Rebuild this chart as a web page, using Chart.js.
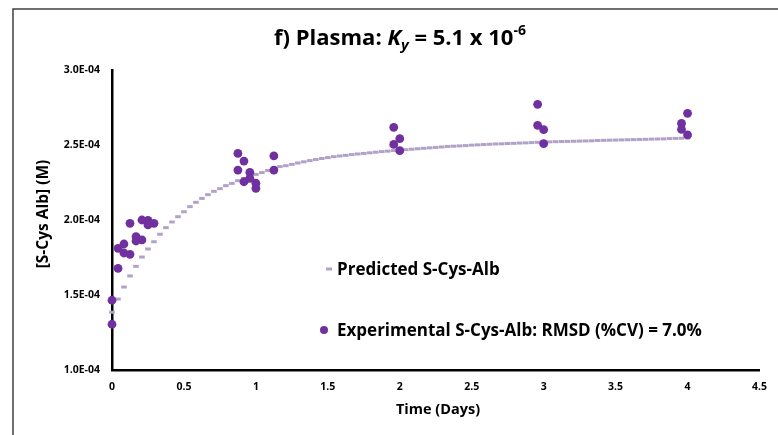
<!DOCTYPE html>
<html>
<head>
<meta charset="utf-8">
<title>S-Cys-Alb plasma</title>
<script src="https://cdn.jsdelivr.net/npm/chart.js@4.4.1/dist/chart.umd.min.js"></script>
<style>
    html, body { margin: 0; padding: 0; background: #fff; }
    #wrap { width: 778px; height: 435px; }
</style>
</head>
<body>
<div id="wrap"><canvas id="myChart" width="778" height="435"></canvas></div>
<script>
// Experimental S-Cys-Alb (units of 1e-4 M) against time in days
var expDays = [0, 0, 0.042, 0.042, 0.083, 0.083, 0.125, 0.125, 0.167, 0.167,
    0.208, 0.208, 0.25, 0.25, 0.292,
    0.875, 0.875, 0.917, 0.917, 0.958, 0.958, 1.0, 1.0, 1.125, 1.125,
    1.958, 1.958, 2.0, 2.0,
    2.958, 2.958, 3.0, 3.0,
    3.958, 3.958, 4.0, 4.0];
var expValues = [1.465, 1.305, 1.678, 1.811, 1.840, 1.780, 1.771, 1.978, 1.889, 1.860,
    1.867, 2.000, 1.998, 1.967, 1.978,
    2.444, 2.333, 2.393, 2.255, 2.318, 2.278, 2.245, 2.211, 2.427, 2.333,
    2.618, 2.504, 2.542, 2.462,
    2.771, 2.631, 2.602, 2.509,
    2.644, 2.604, 2.711, 2.567];

// Model prediction, one value per hour from 0 to 96 h (units of 1e-4 M)
var predValues = [
    1.385, 1.473, 1.553, 1.627, 1.691, 1.753, 1.807, 1.855, 1.905, 1.949,
    1.987, 2.022, 2.055, 2.089, 2.118, 2.144, 2.169, 2.191, 2.209, 2.229,
    2.244, 2.262, 2.276, 2.290, 2.304, 2.316, 2.330, 2.344, 2.356, 2.362,
    2.371, 2.380, 2.388, 2.396, 2.403, 2.410, 2.416, 2.422, 2.427, 2.431,
    2.436, 2.440, 2.444, 2.448, 2.452, 2.456, 2.459, 2.463, 2.466, 2.469,
    2.472, 2.475, 2.478, 2.481, 2.484, 2.487, 2.490, 2.492, 2.494, 2.496,
    2.499, 2.501, 2.503, 2.505, 2.507, 2.508, 2.510, 2.511, 2.513, 2.514,
    2.516, 2.518, 2.520, 2.521, 2.522, 2.523, 2.524, 2.525, 2.526, 2.527,
    2.528, 2.530, 2.531, 2.532, 2.533, 2.534, 2.535, 2.536, 2.537, 2.538,
    2.539, 2.540, 2.541, 2.543, 2.544, 2.545, 2.547];

var xTicks = [0, 0.5, 1, 1.5, 2, 2.5, 3, 3.5, 4, 4.5];
var xTickLabels = ['0', '0.5', '1', '1.5', '2', '2.5', '3', '3.5', '4', '4.5'];
var yTicks = [1.0, 1.5, 2.0, 2.5, 3.0];
var yTickLabels = ['1.0E-04', '1.5E-04', '2.0E-04', '2.5E-04', '3.0E-04'];

var FONT = '"Open Sans", Lato, sans-serif';
var PURPLE = '#7030a0';
var LAVENDER = '#b3a2c7';

var expPoints = expDays.map(function (d, i) { return { x: d, y: expValues[i] }; });
var predPoints = predValues.map(function (v, h) { return { x: h / 24, y: v }; });

// Title, axis titles, legend and the frame are painted by hand
var decor = {
    id: 'decor',
    beforeDraw: function (chart) {
        var ctx = chart.ctx;
        ctx.save();
        ctx.fillStyle = '#fff';
        ctx.fillRect(0, 0, chart.width, chart.height);
        ctx.strokeStyle = '#404040';
        ctx.lineWidth = 1.5;
        ctx.beginPath();
        ctx.moveTo(13, chart.height);
        ctx.lineTo(13, 9);
        ctx.lineTo(chart.width, 9);
        ctx.stroke();
        ctx.restore();
    },
    afterDraw: function (chart) {
        var ctx = chart.ctx;
        ctx.save();
        ctx.fillStyle = '#000';
        ctx.textBaseline = 'alphabetic';

        // chart title with italic K, subscript y and superscript -6
        var parts = [
            { t: 'f) Plasma: ', f: 'bold 22px ' + FONT, dy: 0 },
            { t: 'K', f: 'italic bold 22px ' + FONT, dy: 0 },
            { t: 'y', f: 'italic bold 15px ' + FONT, dy: 5 },
            { t: ' = 5.1 x 10', f: 'bold 22px ' + FONT, dy: 0 },
            { t: '-6', f: 'bold 14px ' + FONT, dy: -10 }
        ];
        var total = 0;
        parts.forEach(function (p) { ctx.font = p.f; p.w = ctx.measureText(p.t).width; total += p.w; });
        var x = 400 - total / 2;
        ctx.textAlign = 'left';
        parts.forEach(function (p) { ctx.font = p.f; ctx.fillText(p.t, x, 45 + p.dy); x += p.w; });

        // axis titles
        ctx.font = 'bold 14.5px ' + FONT;
        ctx.textAlign = 'center';
        ctx.textBaseline = 'middle';
        ctx.fillText('Time (Days)', 438, 410);
        ctx.save();
        ctx.translate(44, 214);
        ctx.rotate(-Math.PI / 2);
        ctx.font = 'bold 15.5px ' + FONT;
        ctx.fillText('[S-Cys Alb] (M)', 0, 0);
        ctx.restore();

        // legend inside the plot
        ctx.strokeStyle = LAVENDER;
        ctx.lineWidth = 3;
        ctx.beginPath();
        ctx.moveTo(326, 269);
        ctx.lineTo(332, 269);
        ctx.stroke();
        ctx.fillStyle = PURPLE;
        ctx.beginPath();
        ctx.arc(324, 330, 4, 0, Math.PI * 2);
        ctx.fill();
        ctx.fillStyle = '#000';
        ctx.font = 'bold 17px ' + FONT;
        ctx.textAlign = 'left';
        ctx.fillText('Predicted S-Cys-Alb', 337, 270);
        ctx.fillText('Experimental S-Cys-Alb: RMSD (%CV) = 7.0%', 337, 331);
        ctx.restore();
    }
};

var ctx = document.getElementById('myChart').getContext('2d');
var myChart = new Chart(ctx, {
    type: 'scatter',
    data: {
        datasets: [{
            label: 'Experimental S-Cys-Alb',
            data: expPoints,
            pointStyle: 'circle',
            pointRadius: 4.4,
            pointBackgroundColor: PURPLE,
            pointBorderWidth: 0,
            clip: false
        }, {
            label: 'Predicted S-Cys-Alb',
            data: predPoints,
            pointStyle: 'line',
            pointRadius: 2.8,
            pointBorderWidth: 3,
            pointBorderColor: LAVENDER,
            clip: false
        }]
    },
    options: {
        responsive: false,
        animation: false,
        layout: { padding: { left: 0, top: 70, right: 15, bottom: 0 } },
        plugins: {
            legend: { display: false },
            title: { display: false },
            tooltip: { enabled: false }
        },
        scales: {
            x: {
                type: 'linear',
                min: 0,
                max: 4.5,
                grid: { display: false, drawTicks: false },
                border: { display: true, color: '#000', width: 2.5 },
                afterBuildTicks: function (scale) {
                    scale.ticks = xTicks.map(function (v) { return { value: v }; });
                },
                afterFit: function (scale) { scale.height = 65; },
                ticks: {
                    padding: 11,
                    color: '#000',
                    font: { family: FONT, size: 10.5, weight: 'bold' },
                    callback: function (v, i) { return xTickLabels[i]; }
                }
            },
            y: {
                type: 'linear',
                min: 1.0,
                max: 3.0,
                grid: { display: false, drawTicks: false },
                border: { display: true, color: '#000', width: 2.5 },
                afterBuildTicks: function (scale) {
                    scale.ticks = yTicks.map(function (v) { return { value: v }; });
                },
                afterFit: function (scale) { scale.width = 112; },
                ticks: {
                    padding: 12,
                    color: '#000',
                    font: { family: FONT, size: 10.5, weight: 'bold' },
                    callback: function (v, i) { return yTickLabels[i]; }
                }
            }
        }
    },
    plugins: [decor]
});
</script>
</body>
</html>
